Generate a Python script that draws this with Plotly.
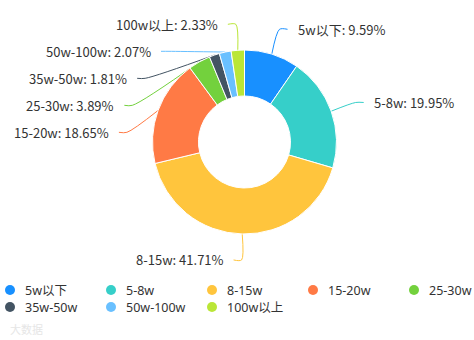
import math
import plotly.graph_objects as go

# Salary distribution (share of postings, %)
categories = ["5w以下", "5-8w", "8-15w", "15-20w", "25-30w", "35w-50w", "50w-100w", "100w以上"]
shares = [9.59, 19.95, 41.71, 18.65, 3.89, 1.81, 2.07, 2.33]
colors = ["#1890FF", "#36CFC9", "#FFC53D", "#FF7A45", "#73D13D", "#435463", "#69C0FF", "#BAE637"]

W, H = 474, 340
CX, CY, R = 244.5, 142.0, 92.0   # donut centre / outer radius in px
L1, L2, GAP = 26.0, 8.0, 8.0     # leader line lengths and text gap
MIN_SPACING = 27.0               # min vertical distance between labels on one side
FONT = "Noto Sans CJK SC, Noto Sans, sans-serif"
LEG_FAMILY = "Noto Sans, Noto Sans CJK SC, sans-serif"
TEXT_COLOR = "#333333"

fig = go.Figure()

fig.add_trace(go.Pie(
    labels=categories,
    values=shares,
    sort=False,
    direction="clockwise",
    rotation=0,
    hole=0.5,
    marker=dict(colors=colors, line=dict(color="#ffffff", width=1)),
    textinfo="none",
    showlegend=False,
    domain=dict(x=[(CX - R) / W, (CX + R) / W], y=[(H - CY - R) / H, (H - CY + R) / H]),
))

# Label layout: mid-angle of each slice, then stack labels per side
total = sum(shares)
items = []
acc = 0.0
for name, v, c in zip(categories, shares, colors):
    mid = (acc + v / 2) / total * 2 * math.pi
    acc += v
    s, co = math.sin(mid), math.cos(mid)
    p0 = (CX + R * s, CY - R * co)
    r1 = R + L1
    p1y = CY - r1 * co
    items.append(dict(name=name, v=v, c=c, s=s, p0=p0, y=p1y,
                      side="right" if s > 0 else "left"))

for side in ("left", "right"):
    group = sorted([it for it in items if it["side"] == side], key=lambda d: d["y"])
    prev = None
    for it in group:
        if prev is not None and it["y"] < prev + MIN_SPACING:
            it["y"] = prev + MIN_SPACING
        prev = it["y"]

annotations = []
r1 = R + L1
for it in items:
    dy = it["y"] - CY
    dx = math.sqrt(max(r1 * r1 - dy * dy, 0.0))
    sign = 1 if it["side"] == "right" else -1
    x1 = CX + sign * dx
    x2 = x1 + sign * L2
    fig.add_trace(go.Scatter(
        x=[it["p0"][0], x1, x2], y=[it["p0"][1], it["y"], it["y"]],
        mode="lines", line=dict(color=it["c"], width=1, shape="spline", smoothing=0.8),
        hoverinfo="skip", showlegend=False,
    ))
    annotations.append(dict(
        x=x2 + sign * GAP, y=it["y"], xref="x", yref="y",
        text=f"{it['name']}: {it['v']:.2f}%", showarrow=False,
        xanchor="left" if sign > 0 else "right", yanchor="middle",
        font=dict(size=13, color=TEXT_COLOR, family=FONT),
    ))

# Legend: five columns, two rows of circle markers
LEG_FONT = 12.5
COLS, COL_W, X0, ROW_Y, ROW_H = 5, 101.0, 10.0, 290.0, 17.0
lx, ly = [], []
for i, name in enumerate(categories):
    x = X0 + (i % COLS) * COL_W
    y = ROW_Y + (i // COLS) * ROW_H
    lx.append(x)
    ly.append(y)
    annotations.append(dict(
        x=x + 13, y=y, xref="x", yref="y", text=name, showarrow=False,
        xanchor="left", yanchor="middle",
        font=dict(size=LEG_FONT, color=TEXT_COLOR, family=LEG_FAMILY),
    ))
fig.add_trace(go.Scatter(
    x=lx, y=ly, mode="markers",
    marker=dict(size=10, color=colors, line=dict(width=0)),
    hoverinfo="skip", showlegend=False,
))

# faint watermark
annotations.append(dict(
    x=8, y=329, xref="x", yref="y", text="大数据", showarrow=False,
    xanchor="left", yanchor="middle",
    font=dict(size=11, color="#e6e6e6", family=FONT),
))

fig.update_layout(
    width=W, height=H,
    margin=dict(l=0, r=0, t=0, b=0),
    paper_bgcolor="#ffffff", plot_bgcolor="rgba(0,0,0,0)",
    xaxis=dict(range=[0, W], visible=False, fixedrange=True, domain=[0, 1]),
    yaxis=dict(range=[H, 0], visible=False, fixedrange=True, domain=[0, 1]),
    annotations=annotations,
    showlegend=False,
)

fig.write_html("out.html")
